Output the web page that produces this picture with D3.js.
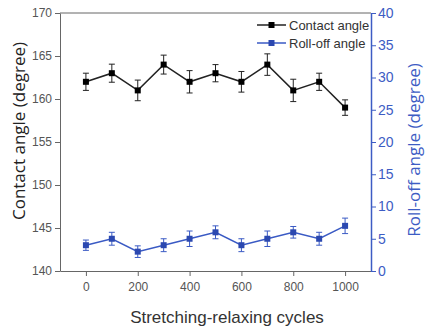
<!DOCTYPE html>
<html><head><meta charset="utf-8">
<script src="https://cdn.jsdelivr.net/npm/d3@7"></script>
<style>body{margin:0;background:#fff}svg{display:block}</style>
</head><body>
<svg id="c" width="425" height="329"></svg>
<script>
const cycles = [0,100,200,300,400,500,600,700,800,900,1000];
const contactAngle = [162,163,161,164,162,163,162,164,161,162,159];
const contactErr = [1.0,1.05,1.2,1.1,1.3,1.0,1.2,1.25,1.3,1.0,0.9];
const rollOff = [4,5,3,4,5,6,4,5,6,5,7];
const rollErr = [0.8,1.0,0.9,1.0,1.2,1.0,1.0,1.2,0.9,1.0,1.2];
const xTicks = [0,200,400,600,800,1000];
const leftTicks = [140,145,150,155,160,165,170];
const rightTicks = [0,5,10,15,20,25,30,35,40];

const svg = d3.select('#c');
const L=60,R=371,T=13,B=271;
const blue='#3d5cc4', gray='#555', axisGray='#666';
const x = d3.scaleLinear().domain([-100,1100]).range([L,R]);
const yL = d3.scaleLinear().domain([140,170]).range([B,T]);
const yR = d3.scaleLinear().domain([0,40]).range([B,T]);

// frame top
svg.append('line').attr('x1',L).attr('x2',R).attr('y1',T).attr('y2',T).attr('stroke',axisGray).attr('stroke-width',1);

function styleAxis(g,col,textCol){
  g.selectAll('path,line').attr('stroke',col);
  g.selectAll('text').attr('fill',textCol).style('font-family','Liberation Sans, Arial, sans-serif').style('font-size','12px');
}
// x axis
const gx = svg.append('g').attr('transform',`translate(0,${B})`);
gx.call(d3.axisBottom(x).tickValues(d3.range(0,1001,100)).tickSize(3).tickSizeOuter(0).tickFormat(()=>'' ));
gx.call(d3.axisBottom(x).tickValues(xTicks).tickSize(5).tickSizeOuter(0).tickPadding(6).tickFormat(d3.format('d')));
styleAxis(gx,axisGray,gray);
// left axis
const gl = svg.append('g').attr('transform',`translate(${L},0)`);
gl.call(d3.axisLeft(yL).tickValues(d3.range(140,170.1,2.5)).tickSize(3).tickSizeOuter(0).tickFormat(()=>''));
gl.call(d3.axisLeft(yL).tickValues(leftTicks).tickSize(5).tickSizeOuter(0).tickPadding(3));
styleAxis(gl,axisGray,gray);
// right axis
const gr = svg.append('g').attr('transform',`translate(${R},0)`);
gr.call(d3.axisRight(yR).tickValues(d3.range(0,40.1,2.5)).tickSize(3).tickSizeOuter(0).tickFormat(()=>''));
gr.call(d3.axisRight(yR).tickValues(rightTicks).tickSize(5).tickSizeOuter(0).tickPadding(2));
styleAxis(gr,blue,blue);
gr.selectAll('text').style('font-size','14px');
gr.select('path.domain').attr('stroke-width',1.5);

function series(vals,errs,y,col,marker){
  const g=svg.append('g');
  g.append('path').datum(cycles.map((c,i)=>[c,vals[i]]))
    .attr('d',d3.line().x(d=>x(d[0])).y(d=>y(d[1])))
    .attr('fill','none').attr('stroke',col).attr('stroke-width',1.5);
  cycles.forEach((c,i)=>{
    const cx=x(c), y1=y(vals[i]+errs[i]), y2=y(vals[i]-errs[i]);
    g.append('line').attr('x1',cx).attr('x2',cx).attr('y1',y1).attr('y2',y2).attr('stroke',col).attr('stroke-width',1);
    [y1,y2].forEach(yy=>g.append('line').attr('x1',cx-3).attr('x2',cx+3).attr('y1',yy).attr('y2',yy).attr('stroke',col).attr('stroke-width',1));
    g.append('rect').attr('x',cx-3).attr('y',y(vals[i])-3).attr('width',6).attr('height',6).attr('fill',marker);
  });
}
series(contactAngle,contactErr,yL,'#222','#000');
series(rollOff,rollErr,yR,'#3a5ac4','#2b48b0');

// legend
const leg=[['Contact angle','#222','#000'],['Roll-off angle','#3a5ac4','#2b48b0']];
leg.forEach((d,i)=>{
  const yy=25+i*18;
  svg.append('line').attr('x1',257).attr('x2',286).attr('y1',yy).attr('y2',yy).attr('stroke',d[1]).attr('stroke-width',1.5);
  svg.append('rect').attr('x',268.5).attr('y',yy-3).attr('width',6).attr('height',6).attr('fill',d[2]);
  svg.append('text').attr('x',289).attr('y',yy+4.5).text(d[0]).attr('fill','#333')
    .style('font-family','Liberation Sans, Arial, sans-serif').style('font-size','13px');
});

// titles
svg.append('text').attr('transform','translate(25,131) rotate(-90)').attr('text-anchor','middle')
  .text('Contact angle (degree)').attr('fill','#222').style('font-family','Open Sans, sans-serif').style('font-size','17px');
svg.append('text').attr('transform','translate(420,150) rotate(-90)').attr('text-anchor','middle')
  .text('Roll-off angle (degree)').attr('fill',blue).style('font-family','Open Sans, sans-serif').style('font-size','17px');
svg.append('text').attr('x',227).attr('y',323).attr('text-anchor','middle')
  .text('Stretching-relaxing cycles').attr('fill','#333').style('font-family','Liberation Sans, Arial, sans-serif').style('font-size','17px');
</script>
</body></html>
